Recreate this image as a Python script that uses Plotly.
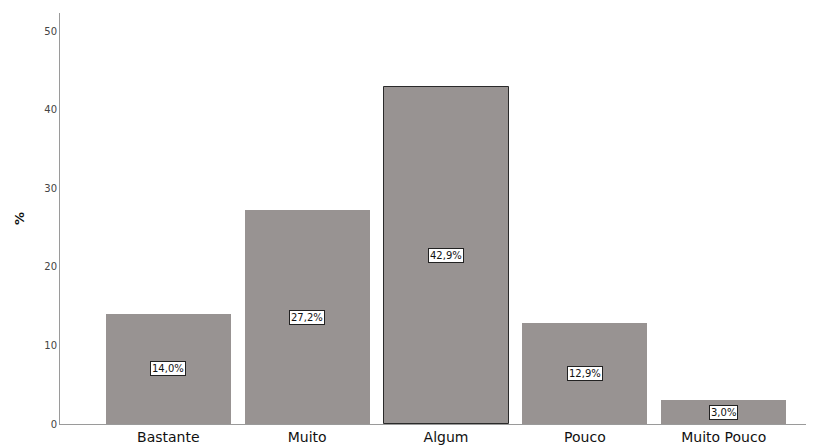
import plotly.graph_objects as go

categories = ["Bastante", "Muito", "Algum", "Pouco", "Muito Pouco"]
values = [14.0, 27.2, 42.9, 12.9, 3.0]
labels = ["14,0%", "27,2%", "42,9%", "12,9%", "3,0%"]
y_ticks = [0, 10, 20, 30, 40, 50]

x_idx = list(range(len(categories)))
line_w = [1 if c == "Algum" else 0 for c in categories]

fig = go.Figure()
fig.add_trace(go.Bar(
    x=x_idx, y=values, width=0.9,
    marker=dict(color="#989392", line=dict(color="#2a2a2a", width=line_w)),
    hoverinfo="skip",
))

for xi, v, lab in zip(x_idx, values, labels):
    fig.add_annotation(x=xi, y=v / 2, text=lab, showarrow=False,
                       font=dict(family="DejaVu Sans", size=10, color="#111"),
                       bgcolor="white", bordercolor="#222", borderwidth=1, borderpad=1)

fig.update_layout(
    width=806, height=438,
    margin=dict(l=52, r=0, t=5, b=22),
    plot_bgcolor="white", paper_bgcolor="white",
    showlegend=False, bargap=0,
    xaxis=dict(range=[-0.78, 4.65], tickvals=x_idx, ticktext=categories,
               showline=True, linecolor="#9a9a9a", linewidth=1, showgrid=False,
               zeroline=False, ticks="", tickfont=dict(family="DejaVu Sans", size=14, color="#111")),
    yaxis=dict(range=[0, 52.3], tickvals=y_ticks, showline=True, linecolor="#9a9a9a",
               linewidth=1, showgrid=False, zeroline=False, ticks="",
               tickfont=dict(family="DejaVu Sans", size=10, color="#444"),
               title=dict(text="<b>%</b>", font=dict(family="DejaVu Sans", size=13, color="#111"), standoff=16)),
)

fig.write_html("out.html")
